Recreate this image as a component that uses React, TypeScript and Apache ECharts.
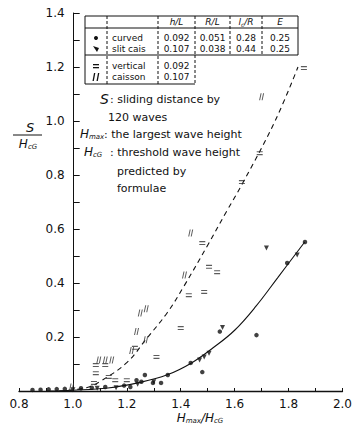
import React, { useEffect, useRef } from "react";
import * as echarts from "echarts";

// ---- data ----
const xTickValues = [0.8, 1.0, 1.2, 1.4, 1.6, 1.8, 2.0];
const yTickValues = [0.2, 0.4, 0.6, 0.8, 1.0, 1.2, 1.4];

// curved slit caisson, h/L = 0.092 (dots)
const curvedPts = [
  [0.85, 0.004], [0.88, 0.005], [0.91, 0.006], [0.94, 0.007], [0.97, 0.008],
  [1.03, 0.01], [1.07, 0.012], [1.12, 0.015], [1.19, 0.02], [1.213, 0.015],
  [1.236, 0.04], [1.254, 0.034], [1.267, 0.059], [1.297, 0.03], [1.327, 0.03],
  [1.352, 0.059], [1.437, 0.104], [1.48, 0.07], [1.545, 0.22], [1.681, 0.207],
  [1.795, 0.474], [1.861, 0.552],
];
// curved slit caisson, h/L = 0.107 (wedges)
const slitPts = [
  [1.0, 0.005], [1.09, 0.01], [1.16, 0.012], [1.24, 0.025], [1.3, 0.034],
  [1.47, 0.115], [1.487, 0.126], [1.505, 0.14], [1.555, 0.235], [1.718, 0.53],
  [1.832, 0.504],
];
// vertical caisson, h/L = 0.092 ("=")
const verticalPts = [
  [1.078, 0.03], [1.085, 0.066], [1.085, 0.096], [1.12, 0.096], [1.133, 0.052],
  [1.157, 0.04], [1.2, 0.04], [1.23, 0.16], [1.31, 0.126], [1.4, 0.233],
  [1.43, 0.355], [1.487, 0.367], [1.505, 0.46], [1.535, 0.44], [1.48, 0.548],
  [1.627, 0.774], [1.693, 0.881], [1.857, 1.196],
];
// vertical caisson, h/L = 0.107 ("//")
const caissonPts = [
  [0.995, 0.015], [1.096, 0.115], [1.12, 0.115], [1.144, 0.115], [1.218, 0.15],
  [1.236, 0.22], [1.27, 0.19], [1.25, 0.289], [1.272, 0.305], [1.414, 0.43],
  [1.437, 0.585], [1.7, 1.09],
];
// fitted curves
const curvedFit = [
  [0.9, 0], [1.0, 0.003], [1.13, 0.011], [1.24, 0.03], [1.35, 0.06], [1.44, 0.104],
  [1.52, 0.16], [1.6, 0.225], [1.68, 0.315], [1.76, 0.42], [1.86, 0.552],
];
const verticalFit = [
  [0.95, 0], [1.05, 0.012], [1.1, 0.035], [1.2, 0.105], [1.27, 0.19], [1.35, 0.29],
  [1.41, 0.385], [1.5, 0.54], [1.57, 0.665], [1.63, 0.77], [1.75, 1.0], [1.835, 1.2],
];

const tableHeader = ["h/L", "R/L", "{i|l}{s|c}{i|/R}", "E"];
const tableRows = [
  ["curved", "0.092", "0.051", "0.28", "0.25"],
  ["slit cais", "0.107", "0.038", "0.44", "0.25"],
  ["vertical", "0.092"],
  ["caisson", "0.107"],
];

const FONT = "DejaVu Sans";
const EQ_PATH = "path://M0,0H10V2H0Z M0,5H10V7H0Z";
const SL_PATH = "path://M3,0H5L2,10H0Z M8,0H10L7,10H5Z";

export default function App() {
  const ref = useRef<HTMLDivElement>(null);
  useEffect(() => {
    if (!ref.current) return;
    const chart = echarts.init(ref.current, null, { renderer: "svg" });
    const rowY = [38, 49, 66, 77];
    const centers = [176.5, 212.5, 246, 280];
    const txt = (x: number, y: number, text: string, extra: any = {}) => ({
      type: "text",
      x,
      y,
      style: {
        text,
        font: `9px "${FONT}"`,
        fill: "#111",
        align: "left",
        verticalAlign: "middle",
        ...extra,
      },
    });
    const ln = (x1: number, y1: number, x2: number, y2: number, dash = false) => ({
      type: "line",
      shape: { x1, y1, x2, y2 },
      style: { stroke: "#111", lineWidth: 1, lineDash: dash ? [3, 2] : null },
    });
    const rich = {
      i: { fontStyle: "italic", fontSize: 9, fontFamily: FONT, fill: "#111" },
      s: { fontStyle: "italic", fontSize: 6, fontFamily: FONT, fill: "#111", padding: [5, 0, 0, 0] },
      I: { fontStyle: "italic", fontSize: 12, fontFamily: FONT, fill: "#111" },
      S: { fontStyle: "italic", fontSize: 7, fontFamily: FONT, fill: "#111", padding: [6, 0, 0, 0] },
    };
    const graphics: any[] = [
      // table frame
      { type: "rect", shape: { x: 85, y: 16, width: 213, height: 39 }, style: { fill: "none", stroke: "#111", lineWidth: 1 } },
      ln(85, 28, 298, 28),
      ln(85, 55, 85, 84),
      ln(85, 84, 195, 84),
      ln(195, 55, 195, 84, true),
      ln(107, 16, 107, 84, true),
      ln(158, 16, 158, 84, true),
      ln(195, 16, 195, 55, true),
      ln(230, 16, 230, 55, true),
      ln(262, 16, 262, 55, true),
      // table symbols
      { type: "circle", shape: { cx: 96, cy: 38, r: 2 }, style: { fill: "#111" } },
      { type: "polygon", shape: { points: [[93, 46], [99, 48], [97, 52]] }, style: { fill: "#111" } },
      { type: "rect", shape: { x: 93, y: 64, width: 6, height: 1.3 }, style: { fill: "#111" } },
      { type: "rect", shape: { x: 93, y: 67, width: 6, height: 1.3 }, style: { fill: "#111" } },
      { type: "polygon", shape: { points: [[94, 73], [95.3, 73], [93.8, 81], [92.5, 81]] }, style: { fill: "#111" } },
      { type: "polygon", shape: { points: [[98, 73], [99.3, 73], [97.8, 81], [96.5, 81]] }, style: { fill: "#111" } },
      // y-axis name
      { type: "text", x: 30, y: 127, style: { text: "S", font: `italic 13px "${FONT}"`, fill: "#111", align: "center", verticalAlign: "middle" } },
      ln(13, 135, 42, 135),
      { type: "text", x: 28, y: 144, style: { text: "{I|H}{S|cG}", rich, align: "center", verticalAlign: "middle" } },
      // x-axis name
      { type: "text", x: 200, y: 418, style: { text: "{I|H}{S|max}{I|/H}{S|cG}", rich, align: "center", verticalAlign: "middle" } },
      // notes
      { type: "text", x: 100, y: 99, style: { text: "S", font: `italic 14px "${FONT}"`, fill: "#111", align: "left", verticalAlign: "middle" } },
      txt(110, 99, ": sliding distance by", { font: `11px "${FONT}"` }),
      txt(108, 117, "120 waves", { font: `11px "${FONT}"` }),
      { type: "text", x: 80, y: 134, style: { text: "{I|H}{S|max}", rich, align: "left", verticalAlign: "middle" } },
      txt(104, 134, ": the largest wave height", { font: `11px "${FONT}"` }),
      { type: "text", x: 84, y: 152, style: { text: "{I|H}{S|cG}", rich, align: "left", verticalAlign: "middle" } },
      txt(110, 152, ": threshold wave height", { font: `11px "${FONT}"` }),
      txt(117, 171, "predicted by", { font: `11px "${FONT}"` }),
      txt(117, 188, "formulae", { font: `11px "${FONT}"` }),
    ];
    tableHeader.forEach((h, i) => {
      graphics.push({
        type: "text",
        x: centers[i],
        y: 22,
        style: { text: h.includes("{") ? h : `{i|${h}}`, rich, align: "center", verticalAlign: "middle" },
      });
    });
    tableRows.forEach((row, r) => {
      graphics.push(txt(112, rowY[r], row[0]));
      row.slice(1).forEach((v, c) => {
        graphics.push(txt(centers[c], rowY[r], v, { align: "center" }));
      });
    });

    const fmt = (v: number, list: number[]) =>
      list.some((t) => Math.abs(t - v) < 1e-6) ? v.toFixed(1) : "";

    chart.setOption({
      animation: false,
      backgroundColor: "#fff",
      grid: { left: 19, right: 8, top: 13, bottom: 40, containLabel: false },
      xAxis: {
        type: "value",
        min: 0.8,
        max: 2.0,
        interval: 0.1,
        axisLine: { show: true, onZero: false, lineStyle: { color: "#111", width: 1.3 } },
        axisTick: { show: true, inside: true, length: 3, lineStyle: { color: "#111" } },
        axisLabel: {
          margin: 7,
          color: "#111",
          fontFamily: FONT,
          fontSize: 12,
          formatter: (v: number) => fmt(v, xTickValues),
        },
        splitLine: { show: false },
      },
      yAxis: {
        type: "value",
        min: 0,
        max: 1.4,
        interval: 0.1,
        offset: -54.7,
        axisLine: { show: true, lineStyle: { color: "#111", width: 1 } },
        axisTick: { show: true, inside: true, length: 6, lineStyle: { color: "#111" } },
        axisLabel: {
          margin: 9,
          color: "#111",
          fontFamily: FONT,
          fontSize: 12,
          formatter: (v: number) => fmt(v, yTickValues),
        },
        splitLine: { show: false },
      },
      graphic: graphics,
      series: [
        {
          type: "line",
          data: curvedFit,
          smooth: 0.4,
          showSymbol: false,
          lineStyle: { color: "#111", width: 1.1 },
          z: 3,
        },
        {
          type: "line",
          data: verticalFit,
          smooth: 0.4,
          showSymbol: false,
          lineStyle: { color: "#111", width: 1.1, type: [5, 4] },
          z: 3,
        },
        { type: "scatter", data: curvedPts, symbol: "circle", symbolSize: 4.5, itemStyle: { color: "#111" }, z: 4 },
        {
          type: "scatter",
          data: slitPts,
          symbol: "triangle",
          symbolRotate: 180,
          symbolSize: 5,
          itemStyle: { color: "#111" },
          z: 4,
        },
        { type: "scatter", data: verticalPts, symbol: EQ_PATH, symbolSize: [6, 4], itemStyle: { color: "#333" }, z: 4 },
        { type: "scatter", data: caissonPts, symbol: SL_PATH, symbolSize: [5, 7], itemStyle: { color: "#333" }, z: 4 },
      ],
    });
    return () => chart.dispose();
  }, []);
  return (
    <div
      ref={ref}
      style={{ position: "fixed", left: 0, top: 0, width: 355, height: 431, background: "#fff" }}
    />
  );
}
